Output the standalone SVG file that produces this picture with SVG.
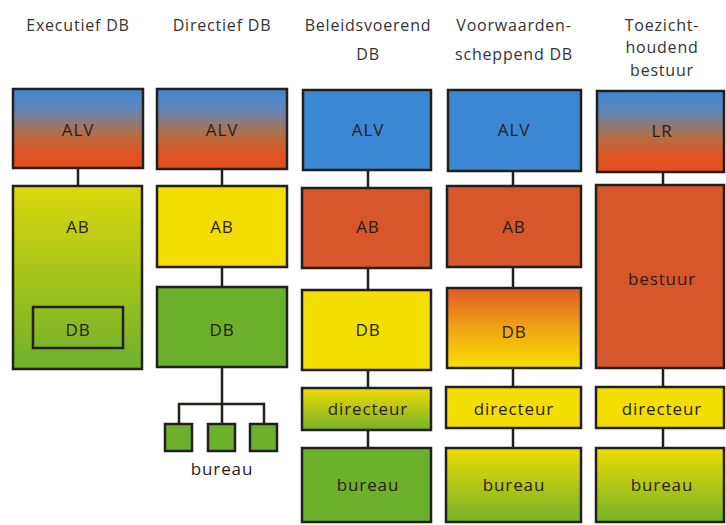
<svg xmlns="http://www.w3.org/2000/svg" width="726" height="525" viewBox="0 0 726 525">
<defs>
<linearGradient id="gBO" x1="0" y1="0" x2="0" y2="1">
<stop offset="0" stop-color="#3f88d2"/><stop offset="0.25" stop-color="#5f86b8"/><stop offset="0.55" stop-color="#b0704a"/><stop offset="0.8" stop-color="#df5524"/><stop offset="1" stop-color="#e24e1c"/>
</linearGradient>
<linearGradient id="gYG" x1="0" y1="0" x2="0" y2="1">
<stop offset="0" stop-color="#dcd80c"/><stop offset="1" stop-color="#6eb02c"/>
</linearGradient>
<linearGradient id="gYG2" x1="0" y1="0" x2="0" y2="1">
<stop offset="0" stop-color="#eedc02"/><stop offset="1" stop-color="#74b22a"/>
</linearGradient>
<linearGradient id="gOY" x1="0" y1="0" x2="0" y2="1">
<stop offset="0" stop-color="#de5a24"/><stop offset="0.5" stop-color="#f0a414"/><stop offset="1" stop-color="#f6e000"/>
</linearGradient>
<style>
.b{stroke:#231f1c;stroke-width:2.5}
.c{stroke:#231f1c;stroke-width:2.5;fill:none}
.t{font-family:"Open Sans","Noto Sans",sans-serif;font-size:17px;fill:#2a1c18;text-anchor:middle;letter-spacing:0.9px}
.h{font-family:"Open Sans","Noto Sans",sans-serif;font-size:16px;fill:#333;text-anchor:middle;letter-spacing:0.8px}
.blue{fill:#3b87d4}.or{fill:#d8562c}.ye{fill:#f4de00}.gr{fill:#6cb02c}
</style>
</defs>
<rect width="726" height="525" fill="#ffffff"/>
<g id="headers">
<text class="h" x="78" y="31">Executief DB</text>
<text class="h" x="222" y="31">Directief DB</text>
<text class="h" x="368" y="31">Beleidsvoerend</text>
<text class="h" x="368" y="60">DB</text>
<text class="h" x="514" y="31">Voorwaarden-</text>
<text class="h" x="514" y="60">scheppend DB</text>
<text class="h" x="662" y="31">Toezicht-</text>
<text class="h" x="662" y="53">houdend</text>
<text class="h" x="662" y="76">bestuur</text>
</g>
<g id="connectors">
<path class="c" d="M78 168V186M222 169V186M222 267V287M222 367V404M179 424V404H264V424M222 404V424"/>
<path class="c" d="M368 170V188M368 268V290M368 370V388M368 430V448"/>
<path class="c" d="M513 171V186M513 267V288M513 368V387M513 428V448"/>
<path class="c" d="M663 172V185M663 368V387M663 428V448"/>
</g>
<g id="col1">
<g id="c1-alv"><rect class="b" x="13" y="89" width="130" height="79" fill="url(#gBO)"/><text class="t" x="78" y="136">ALV</text></g>
<g id="c1-ab"><rect class="b" x="13" y="186" width="129" height="183" fill="url(#gYG)"/><text class="t" x="78" y="233">AB</text></g>
<g id="c1-db"><rect class="c" x="33" y="307" width="90" height="41"/><text class="t" x="78" y="336">DB</text></g>
</g>
<g id="col2">
<g id="c2-alv"><rect class="b" x="157" y="89" width="130" height="80" fill="url(#gBO)"/><text class="t" x="222" y="136">ALV</text></g>
<g id="c2-ab"><rect class="b ye" x="157" y="186" width="130" height="81"/><text class="t" x="222" y="233">AB</text></g>
<g id="c2-db"><rect class="b gr" x="157" y="287" width="130" height="80"/><text class="t" x="222" y="336">DB</text></g>
<g id="c2-bureau">
<rect class="b gr" x="165" y="424" width="27" height="27"/>
<rect class="b gr" x="208" y="424" width="27" height="27"/>
<rect class="b gr" x="250" y="424" width="27" height="27"/>
<text class="t" x="222" y="475">bureau</text>
</g>
</g>
<g id="col3">
<g id="c3-alv"><rect class="b blue" x="303" y="90" width="128" height="80"/><text class="t" x="368" y="136">ALV</text></g>
<g id="c3-ab"><rect class="b or" x="302" y="188" width="129" height="80"/><text class="t" x="368" y="233">AB</text></g>
<g id="c3-db"><rect class="b ye" x="302" y="290" width="129" height="80"/><text class="t" x="368" y="336">DB</text></g>
<g id="c3-dir"><rect class="b" x="302" y="388" width="129" height="42" fill="url(#gYG2)"/><text class="t" x="368" y="415">directeur</text></g>
<g id="c3-bur"><rect class="b gr" x="302" y="448" width="129" height="74"/><text class="t" x="368" y="491">bureau</text></g>
</g>
<g id="col4">
<g id="c4-alv"><rect class="b blue" x="448" y="90" width="133" height="81"/><text class="t" x="514" y="136">ALV</text></g>
<g id="c4-ab"><rect class="b or" x="447" y="186" width="134" height="81"/><text class="t" x="514" y="233">AB</text></g>
<g id="c4-db"><rect class="b" x="447" y="288" width="134" height="80" fill="url(#gOY)"/><text class="t" x="514" y="338">DB</text></g>
<g id="c4-dir"><rect class="b ye" x="446" y="387" width="135" height="41"/><text class="t" x="514" y="415">directeur</text></g>
<g id="c4-bur"><rect class="b" x="446" y="448" width="135" height="74" fill="url(#gYG2)"/><text class="t" x="514" y="491">bureau</text></g>
</g>
<g id="col5">
<g id="c5-lr"><rect class="b" x="597" y="91" width="127" height="81" fill="url(#gBO)"/><text class="t" x="662" y="137">LR</text></g>
<g id="c5-bestuur"><rect class="b or" x="596" y="185" width="128" height="183"/><text class="t" x="662" y="285">bestuur</text></g>
<g id="c5-dir"><rect class="b ye" x="596" y="387" width="128" height="41"/><text class="t" x="662" y="415">directeur</text></g>
<g id="c5-bur"><rect class="b" x="596" y="448" width="128" height="74" fill="url(#gYG2)"/><text class="t" x="662" y="491">bureau</text></g>
</g>
</svg>
